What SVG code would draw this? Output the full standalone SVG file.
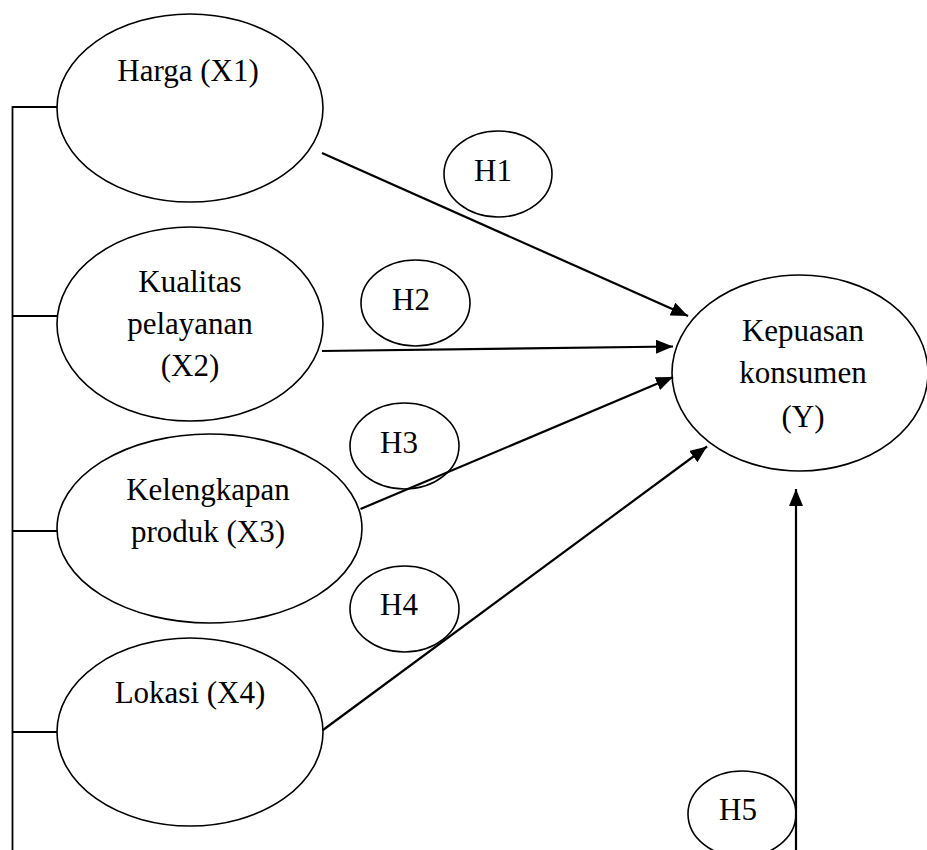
<svg xmlns="http://www.w3.org/2000/svg" width="927" height="850" viewBox="0 0 927 850">
<style>
.node ellipse{fill:#fff;stroke:#000;stroke-width:1.6}
text{font-family:"Liberation Serif","Times New Roman",serif;font-size:31px;fill:#000;text-anchor:middle}
.conn line{stroke:#000;stroke-width:2.2}
.bracket{stroke:#000;stroke-width:1.8;fill:none}
</style>
<defs>
<marker id="arr" markerUnits="userSpaceOnUse" markerWidth="17" markerHeight="14" refX="17" refY="7" orient="auto">
<path d="M0,0 L17,7 L0,14 z" fill="#000"/>
</marker>
</defs>
<path class="bracket" d="M12.5,850 V107 H57 M12.5,316 H57 M12.5,531 H57 M12.5,732 H57"/>
<g id="x1" class="node"><ellipse cx="190" cy="108" rx="133" ry="94"/><text x="188" y="81">Harga (X1)</text></g>
<g id="x2" class="node"><ellipse cx="190" cy="324" rx="133" ry="97"/><text x="190" y="292">Kualitas</text><text x="190" y="334">pelayanan</text><text x="190" y="376">(X2)</text></g>
<g id="x3" class="node"><ellipse cx="209.5" cy="528.5" rx="152.5" ry="94.5"/><text x="208" y="500">Kelengkapan</text><text x="208" y="542">produk (X3)</text></g>
<g id="x4" class="node"><ellipse cx="190" cy="732" rx="133" ry="94"/><text x="190" y="703">Lokasi (X4)</text></g>
<g id="y" class="node"><ellipse cx="800" cy="373" rx="128" ry="98"/><text x="803" y="341">Kepuasan</text><text x="803" y="383">konsumen</text><text x="803" y="427">(Y)</text></g>
<g id="h1" class="node"><ellipse cx="498" cy="174" rx="54" ry="43"/><text x="493" y="181">H1</text></g>
<g id="h2" class="node"><ellipse cx="415.5" cy="303" rx="54.5" ry="43"/><text x="411" y="310">H2</text></g>
<g id="h3" class="node"><ellipse cx="404.5" cy="446" rx="54.5" ry="43"/><text x="399" y="453">H3</text></g>
<g id="h4" class="node"><ellipse cx="404.5" cy="609" rx="54.5" ry="43"/><text x="399" y="615">H4</text></g>
<g id="h5" class="node"><ellipse cx="742" cy="814" rx="54" ry="43"/><text x="738" y="820">H5</text></g>
<g id="connectors" class="conn">
<line x1="322" y1="153" x2="688" y2="316" marker-end="url(#arr)"/>
<line x1="322" y1="351" x2="673" y2="346.5" marker-end="url(#arr)"/>
<line x1="360.5" y1="509" x2="673" y2="377" marker-end="url(#arr)"/>
<line x1="323" y1="730" x2="707" y2="446.5" marker-end="url(#arr)"/>
<line x1="796" y1="850" x2="796" y2="489" marker-end="url(#arr)"/>
</g>
</svg>
